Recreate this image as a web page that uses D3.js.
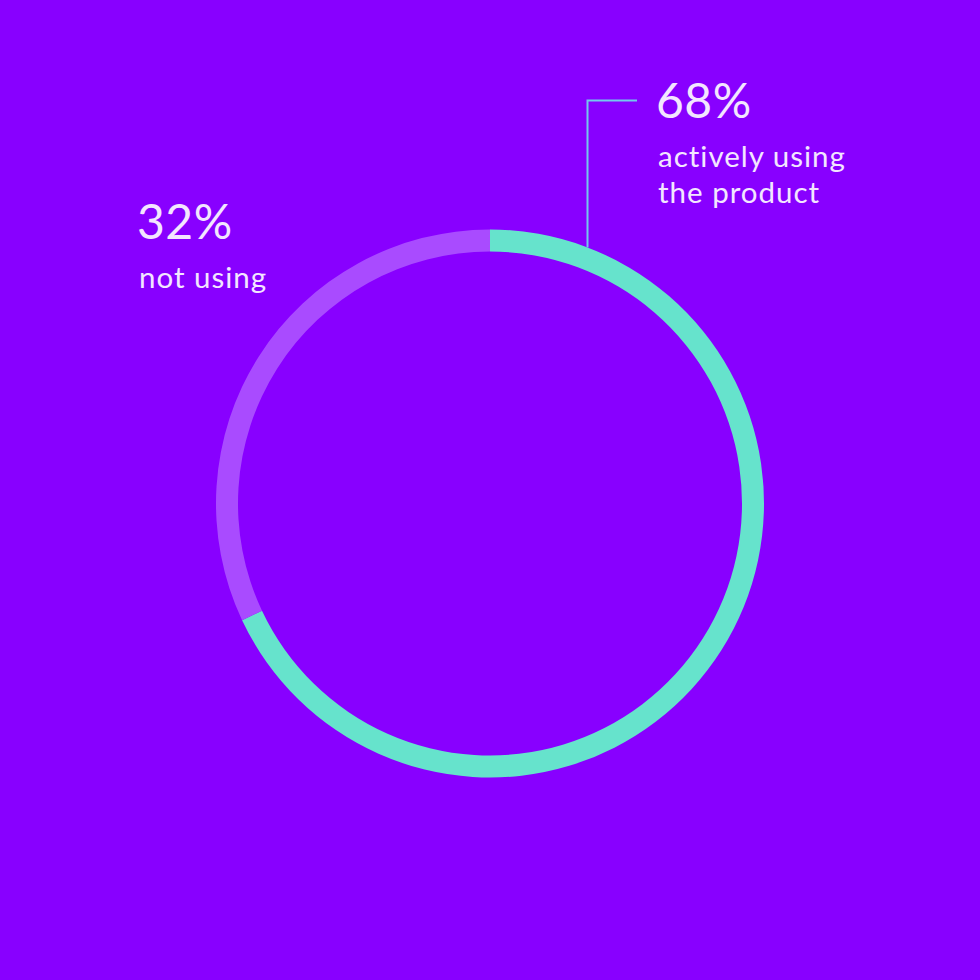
<!DOCTYPE html>
<html><head><meta charset="utf-8">
<script src="https://cdn.jsdelivr.net/npm/d3@7"></script>
<style>html,body{margin:0;padding:0;background:#8800ff;}svg{display:block;}</style>
</head><body>
<script>
const categories = ["actively using the product", "not using"];
const values = [68, 32];
const pctLabels = ["68%", "32%"];
const subLabels = [["actively using", "the product"], ["not using"]];

const W = 980, H = 980;
const svg = d3.select("body").append("svg").attr("width", W).attr("height", H);
svg.append("rect").attr("width", W).attr("height", H).attr("fill", "#8800ff");

const cx = 490, cy = 503.5, rOuter = 274, rInner = 252;
const color = d3.scaleOrdinal().domain(categories).range(["#66e3cc", "#a94bff"]);
const pie = d3.pie().sort(null).value(d => d)(values);
const arc = d3.arc().innerRadius(rInner).outerRadius(rOuter);
const g = svg.append("g").attr("transform", `translate(${cx},${cy})`);
g.selectAll("path").data(pie).join("path")
  .attr("d", arc).attr("fill", (d, i) => color(categories[i]));

// leader line
const lx = 587.5;
const yRing = cy - Math.sqrt(rOuter * rOuter - (lx - cx) * (lx - cx));
svg.append("path")
  .attr("d", `M${lx},${yRing} L${lx},100.5 L637,100.5`)
  .attr("fill", "none").attr("stroke", "#72c8ee").attr("stroke-width", 2);

const font = "'Lato', 'Open Sans', sans-serif";
const tc = "#f3e6ff";
function big(x, y, t) {
  svg.append("text").attr("x", x).attr("y", y).text(t)
    .attr("font-family", font).attr("font-size", 48).attr("letter-spacing", 0.5).attr("fill", tc);
}
function small(x, y, t) {
  svg.append("text").attr("x", x).attr("y", y).text(t)
    .attr("font-family", font).attr("font-size", 29.5).attr("letter-spacing", 1).attr("fill", tc);
}
big(656, 118, pctLabels[0]);
subLabels[0].forEach((t, i) => small(658, 167 + i * 36, t));
big(137, 238.5, pctLabels[1]);
subLabels[1].forEach((t, i) => small(139, 288 + i * 36, t));
</script>
</body></html>
